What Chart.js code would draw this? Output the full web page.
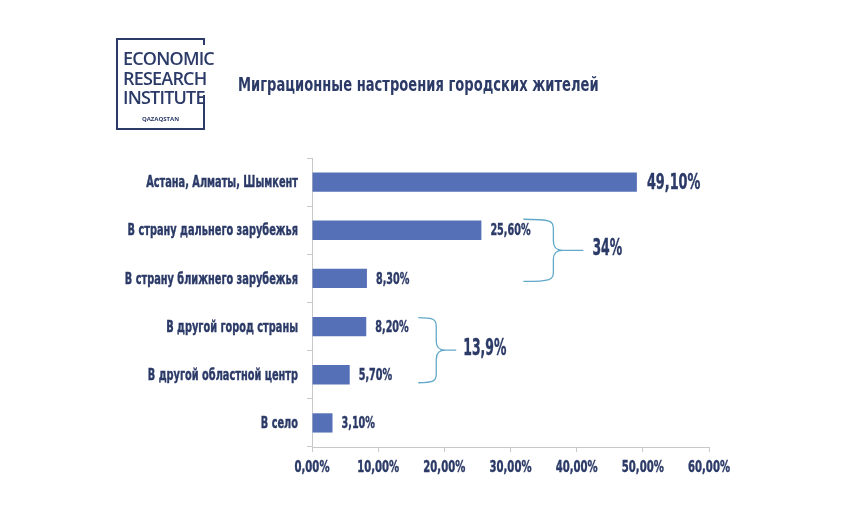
<!DOCTYPE html>
<html>
<head>
<meta charset="utf-8">
<script src="https://cdn.jsdelivr.net/npm/chart.js@4"></script>
<style>
  body { margin: 0; background: #fff; }
  #wrap { position: relative; width: 860px; height: 517px; }
  #logo { position: absolute; left: 116px; top: 38px; width: 85px; height: 88px;
          border: 2px solid #2b3a67; z-index: 2; }
  #logo .gap { position: absolute; right: -3px; top: 5px; width: 4px; height: 50px; background: #fff; }
  #logo .big { position: absolute; left: 5px; font-family: "Open Sans", sans-serif; font-weight: 600;
               font-size: 18px; line-height: 18px; color: #2b3a67; letter-spacing: -0.8px; white-space: nowrap; }
  #logo .small { position: absolute; left: 0; width: 85px; top: 75px; text-align: center;
                 font-family: "Open Sans", sans-serif; font-weight: 700; font-size: 6px; color: #2b3a67; }
  #title { position: absolute; left: 238px; top: 73px; font-family: "DejaVu Sans Condensed", sans-serif;
           font-weight: bold; font-size: 19px; color: #2b3a67; white-space: nowrap;
           transform: scaleX(0.767); transform-origin: left center; z-index: 2; }
  canvas { position: absolute; left: 0; top: 0; }
</style>
</head>
<body>
<div id="wrap">
  <div id="logo">
    <div class="gap"></div>
    <div class="big" style="top:9px">ECONOMIC</div>
    <div class="big" style="top:29px">RESEARCH</div>
    <div class="big" style="top:48px">INSTITUTE</div>
    <div class="small">QAZAQSTAN</div>
  </div>
  <div id="title">Миграционные настроения городских жителей</div>
  <canvas id="chart" width="860" height="517"></canvas>
</div>
<script>
var categories = ["Астана, Алматы, Шымкент", "В страну дальнего зарубежья", "В страну ближнего зарубежья",
                  "В другой город страны", "В другой областной центр", "В село"];
var values = [49.1, 25.6, 8.3, 8.2, 5.7, 3.1];
var xTicks = [0, 10, 20, 30, 40, 50, 60];
var groupStart = [1, 3];
var groupEnd = [2, 4];
var groupLabels = ["34%", "13,9%"];

var navy = "#2b3a67";
var narrow = "'DejaVu Sans Condensed', sans-serif";

function fmt(v) {
    return v.toFixed(2).replace(".", ",") + "%";
}

// condensed look: squeeze the text horizontally
function narrowText(ctx, text, x, y, size, sx, align) {
    ctx.save();
    ctx.font = "bold " + size + "px " + narrow;
    ctx.textAlign = align;
    ctx.textBaseline = "middle";
    ctx.translate(x, y);
    ctx.scale(sx, 1);
    ctx.fillText(text, 0, 0);
    ctx.lineWidth = 0.4;
    ctx.strokeStyle = navy;
    ctx.strokeText(text, 0, 0);
    ctx.restore();
}

// brace look per group: top/bottom offsets from bar centres, x offsets from the bar end
var braceStyle = [
    { top: -11, bot: 3, start: 42, arm: 30, tip: 30, gap: 9 },
    { top: -9, bot: 8, start: 52, arm: 18, tip: 20, gap: 7 }
];

var labelPlugin = {
    id: "labels",
    afterDraw: function (chart) {
        var ctx = chart.ctx;
        var meta = chart.getDatasetMeta(0);
        var xs = chart.scales.x;
        var ys = chart.scales.y;
        ctx.save();
        ctx.fillStyle = navy;

        categories.forEach(function (c, i) {
            narrowText(ctx, c, ys.right - 14, ys.getPixelForValue(i) + 1, 16, 0.68, "right");
        });
        xTicks.forEach(function (v) {
            narrowText(ctx, fmt(v), xs.getPixelForValue(v), xs.top + 21, 16, 0.7, "center");
        });
        meta.data.forEach(function (bar, i) {
            if (i === 0) {
                narrowText(ctx, fmt(values[i]), bar.x + 10, bar.y + 1, 21, 0.68, "left");
            } else {
                narrowText(ctx, fmt(values[i]), bar.x + 9, bar.y + 1, 16, 0.67, "left");
            }
        });

        groupStart.forEach(function (g0, k) {
            var s = braceStyle[k];
            var top = ys.getPixelForValue(g0) + s.top;
            var bot = ys.getPixelForValue(groupEnd[k]) + s.bot;
            var mid = (top + bot) / 2;
            var start = xs.getPixelForValue(values[g0]) + s.start;
            var vx = start + s.arm;
            var tip = vx + s.tip;
            var r = 9;
            ctx.strokeStyle = "#62a9c9";
            ctx.lineWidth = 1.3;
            ctx.beginPath();
            ctx.moveTo(start, top);
            ctx.bezierCurveTo(vx - 2, top, vx, top + 2, vx, top + r);
            ctx.lineTo(vx, mid - r);
            ctx.quadraticCurveTo(vx, mid, vx + r, mid);
            ctx.lineTo(tip, mid);
            ctx.moveTo(vx + r, mid);
            ctx.quadraticCurveTo(vx, mid, vx, mid + r);
            ctx.lineTo(vx, bot - r);
            ctx.bezierCurveTo(vx, bot - 2, vx - 2, bot, start, bot);
            ctx.stroke();

            narrowText(ctx, groupLabels[k], tip + s.gap, mid - 1, 23, 0.6, "left");
        });
        ctx.restore();
    }
};

new Chart(document.getElementById("chart").getContext("2d"), {
    type: "bar",
    data: {
        labels: categories,
        datasets: [{
            data: values,
            backgroundColor: "#5570b6",
            barPercentage: 0.8,
            categoryPercentage: 0.5
        }]
    },
    options: {
        indexAxis: "y",
        responsive: false,
        animation: false,
        layout: { padding: { left: 0, right: 151, top: 158, bottom: 40 } },
        plugins: { legend: { display: false }, tooltip: { enabled: false } },
        scales: {
            x: {
                min: 0, max: 60,
                afterBuildTicks: function (scale) {
                    scale.ticks = xTicks.map(function (v) { return { value: v }; });
                },
                afterFit: function (scale) { scale.height = 30; },
                border: { color: "#c8c8c8" },
                grid: { drawOnChartArea: false, drawTicks: true, tickLength: 5, color: "#c8c8c8" },
                ticks: { display: false }
            },
            y: {
                afterFit: function (scale) { scale.width = 312; },
                border: { color: "#c8c8c8" },
                grid: { drawOnChartArea: false, drawTicks: true, tickLength: 5, color: "#c8c8c8", offset: true },
                ticks: { display: false }
            }
        }
    },
    plugins: [labelPlugin]
});
</script>
</body>
</html>
